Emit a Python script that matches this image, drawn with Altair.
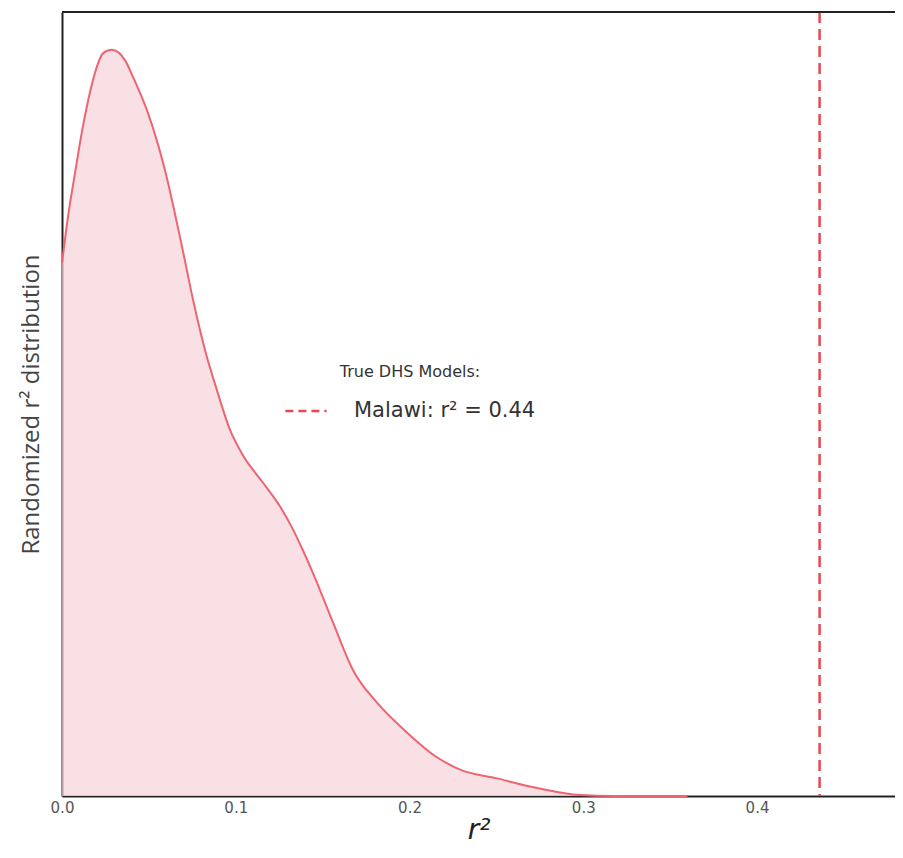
import altair as alt
import pandas as pd

# Randomized r^2 density curve
r2_values = [0.0, 0.0038, 0.0075, 0.0113, 0.0151, 0.019, 0.0236, 0.0286, 0.0363, 0.0409,
             0.0495, 0.0593, 0.0691, 0.0754, 0.0823, 0.0892, 0.0967, 0.1042, 0.1157,
             0.1255, 0.1329, 0.1387, 0.1445, 0.156, 0.1675, 0.1813, 0.1986, 0.2158,
             0.2291, 0.2504, 0.2734, 0.2981, 0.3171, 0.34, 0.36]
density = [6.06, 6.63, 7.08, 7.53, 7.91, 8.22, 8.44, 8.48, 8.36, 8.17,
           7.76, 7.11, 6.24, 5.64, 5.07, 4.61, 4.16, 3.87, 3.56,
           3.29, 3.03, 2.79, 2.53, 1.97, 1.43, 1.06, 0.72, 0.44,
           0.30, 0.20, 0.09, 0.01, 0.0, 0.0, 0.0]

true_labels = ["Malawi: r² = 0.44"]
true_r2 = [0.436]

W, H = 833, 784
x_domain = [0, 0.4794]
y_domain = [0, 8.91]

dens_df = pd.DataFrame({"r2": r2_values, "density": density})
true_df = pd.DataFrame({"label": true_labels, "r2": true_r2})

x_enc = alt.X("r2:Q", scale=alt.Scale(domain=x_domain, nice=False, zero=False),
              axis=alt.Axis(title="r²", values=[0.0, 0.1, 0.2, 0.3, 0.4], format=".1f",
                            ticks=False, grid=False, domainColor="#222222", domainWidth=2,
                            labelFlush=False,
                            labelFont="DejaVu Sans", labelFontSize=15, labelColor="#555555",
                            labelPadding=4, titleFont="DejaVu Sans", titleFontSize=28,
                            titleFontStyle="italic", titleFontWeight="normal",
                            titleColor="#222222", titlePadding=1))
y_enc = alt.Y("density:Q", scale=alt.Scale(domain=y_domain, nice=False),
              axis=alt.Axis(title="Randomized r² distribution", labels=False, ticks=False,
                            grid=False, domainColor="#222222", domainWidth=2,
                            titleFont="Open Sans", titleFontSize=24, titleFontWeight="normal",
                            titleColor="#444444", titlePadding=19))

area = alt.Chart(dens_df).mark_area(
    interpolate="monotone", fill="#f7d3da", line={"color": "#ee6470", "strokeWidth": 2}
).encode(x=x_enc, y=y_enc)

rule = alt.Chart(true_df).mark_rule(strokeDash=[11, 6], strokeWidth=2.5).encode(
    x=alt.X("r2:Q"),
    color=alt.Color("label:N",
                    scale=alt.Scale(domain=true_labels, range=["#e8474f"]),
                    legend=alt.Legend(title="True DHS Models:", orient="none",
                                      legendX=222, legendY=352, symbolType="stroke",
                                      symbolSize=1700, symbolStrokeWidth=2.5,
                                      symbolDash=[8, 5], labelFont="DejaVu Sans",
                                      labelFontSize=21, labelColor="#333333",
                                      labelOffset=26, labelLimit=400,
                                      titleFont="DejaVu Sans",
                                      titleFontSize=16, titleFontWeight="normal",
                                      titleColor="#333333", titleAnchor="middle",
                                      titlePadding=9, padding=0))
)

top_border = alt.Chart(true_df).mark_rule(color="#222222", strokeWidth=2).encode(
    x=alt.value(0), x2=alt.value(W), y=alt.value(0)
)

chart = alt.layer(area, rule, top_border).properties(
    width=W, height=H,
    autosize=alt.AutoSizeParams(type="none"),
    padding={"left": 54, "top": 4, "right": 0, "bottom": 54},
).configure_view(stroke=None).configure(background="white")

chart.save("out.html", embed_options={"renderer": "svg", "actions": False})
